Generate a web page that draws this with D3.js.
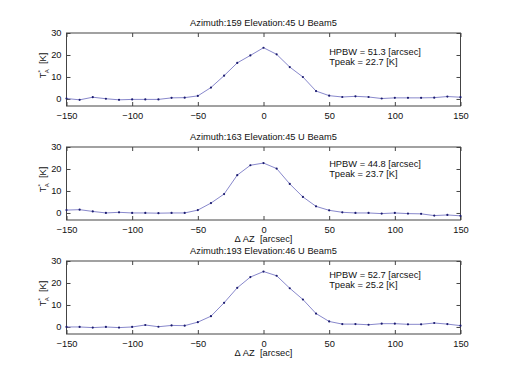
<!DOCTYPE html>
<html><head><meta charset="utf-8">
<script src="https://cdn.jsdelivr.net/npm/d3@7"></script>
<style>body{margin:0;background:#fff}svg{display:block}</style>
</head><body>
<script>
const offsets = [-150,-140,-130,-120,-110,-100,-90,-80,-70,-60,-50,-40,-30,-20,-10,0,10,20,30,40,50,60,70,80,90,100,110,120,130,140,150];
const titles = ["Azimuth:159 Elevation:45 U Beam5","Azimuth:163 Elevation:45 U Beam5","Azimuth:193 Elevation:46 U Beam5"];
const scan1 = [0.2,-0.4,0.8,0.1,-0.4,-0.2,-0.2,-0.2,0.5,0.6,1.4,5.2,10.6,16.4,19.8,23.3,20.3,14.5,10.0,3.6,1.5,0.9,1.2,0.9,0.2,0.5,0.5,0.5,0.6,1.1,0.8];
const scan2 = [1.3,1.5,0.7,0.0,0.3,0.0,0.0,-0.1,0.0,0.0,1.3,4.5,8.6,17.2,21.7,22.7,20.2,13.2,7.3,3.0,1.2,0.3,0.0,0.0,-0.3,0.0,-0.3,-0.4,-1.2,-0.9,-1.3];
const scan3 = [0.0,0.0,-0.3,0.0,-0.3,0.0,0.9,0.1,0.7,0.6,2.2,4.9,11.0,17.8,22.7,25.2,23.3,17.6,12.5,6.1,2.5,1.3,1.3,1.0,1.5,1.5,1.2,1.2,1.8,1.3,0.6];
const hpbw = [51.3, 44.8, 52.7];
const tpeak = [22.7, 23.7, 25.2];
const xTicks = [-150,-100,-50,0,50,100,150];
const yTicks = [0,10,20,30];
const showXLabel = [false, true, true];

const scans = [scan1, scan2, scan3];
const W = 508, H = 381;
const svg = d3.select("body").append("svg").attr("width", W).attr("height", H)
  .style("font-family", "'Liberation Sans', Arial, sans-serif");

const left = 66.5, right = 460.5, ph = 73, tops = [33, 147, 261];
const x = d3.scaleLinear().domain([-150,150]).range([left, right]);
const axisColor = "#444", fs = 9.3, tickLen = 4;

scans.forEach((vals, i) => {
  const top = tops[i];
  const y = d3.scaleLinear().domain([-3.2,30]).range([top + ph, top]);
  const g = svg.append("g");
  g.append("rect").attr("x", left).attr("y", top).attr("width", right-left).attr("height", ph)
    .attr("fill", "#fff").attr("stroke", axisColor).attr("stroke-width", 1);
  const bottomAx = d3.axisBottom(x).tickValues(xTicks).tickSizeInner(-tickLen).tickSizeOuter(0).tickPadding(6).tickFormat(d3.format("d"));
  const gb = g.append("g").attr("transform", `translate(0,${top+ph})`).call(bottomAx);
  const topAx = d3.axisTop(x).tickValues(xTicks).tickSizeInner(-tickLen).tickSizeOuter(0).tickFormat("");
  const gt = g.append("g").attr("transform", `translate(0,${top})`).call(topAx);
  const leftAx = d3.axisLeft(y).tickValues(yTicks).tickSizeInner(-tickLen).tickSizeOuter(0).tickPadding(5);
  const gl = g.append("g").attr("transform", `translate(${left},0)`).call(leftAx);
  const rightAx = d3.axisRight(y).tickValues(yTicks).tickSizeInner(-tickLen).tickSizeOuter(0).tickFormat("");
  const gr = g.append("g").attr("transform", `translate(${right},0)`).call(rightAx);
  [gb, gt, gl, gr].forEach(a => {
    a.select(".domain").remove();
    a.selectAll("line").attr("stroke", axisColor);
    a.selectAll("text").attr("fill", "#111").style("font-size", fs + "px").style("font-family", "'Liberation Sans', Arial, sans-serif");
  });
  const pts = offsets.map((o, k) => [o, vals[k]]);
  g.append("path").datum(pts)
    .attr("d", d3.line().x(d => x(d[0])).y(d => y(d[1])))
    .attr("fill", "none").attr("stroke", "#8888cc").attr("stroke-width", 1);
  g.selectAll("circle.pt").data(pts).join("circle").attr("class", "pt")
    .attr("cx", d => x(d[0])).attr("cy", d => y(d[1])).attr("r", 1.1).attr("fill", "#1c1c70");
  svg.append("text").attr("x", (left+right)/2).attr("y", top - 7).attr("text-anchor", "middle")
    .style("font-size", fs + "px").attr("fill", "#111").text(titles[i]);
  const cy = y(tpeak[i] - 3.5);
  svg.append("text").attr("x", x(50)).attr("y", cy - 5 + 3.3).style("font-size", fs + "px").attr("fill", "#111")
    .text(`HPBW = ${hpbw[i].toFixed(1)} [arcsec]`);
  svg.append("text").attr("x", x(50)).attr("y", cy + 5 + 3.3).style("font-size", fs + "px").attr("fill", "#111")
    .text(`Tpeak = ${tpeak[i].toFixed(1)} [K]`);
  const yl = svg.append("text").attr("transform", `translate(46,${top + ph/2 - 4}) rotate(-90)`)
    .attr("text-anchor", "middle").style("font-size", fs + "px").attr("fill", "#111");
  yl.append("tspan").text("T");
  yl.append("tspan").attr("dy", -4).style("font-size", "6px").text("*");
  yl.append("tspan").attr("dx", -3).attr("dy", 7).style("font-size", "6px").text("A");
  yl.append("tspan").attr("dy", -3).style("white-space", "pre").text("  [K]");
  if (showXLabel[i]) {
    svg.append("text").attr("x", (left+right)/2).attr("y", top + ph + 22).attr("text-anchor", "middle")
      .style("white-space", "pre").style("font-size", fs + "px").attr("fill", "#111").text("\u0394 AZ  [arcsec]");
  }
});
</script>
</body></html>
